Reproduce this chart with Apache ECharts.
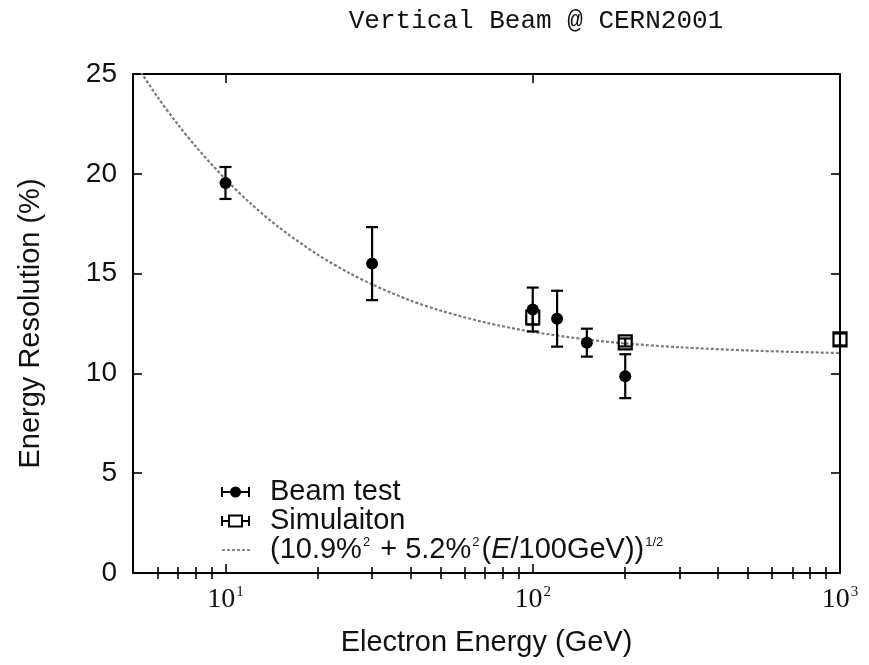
<!DOCTYPE html>
<html>
<head>
<meta charset="utf-8">
<script src="https://cdn.jsdelivr.net/npm/echarts@6/dist/echarts.min.js"></script>
<style>
  html, body { margin: 0; padding: 0; background: #ffffff; }
  #chart { width: 869px; height: 665px; }
</style>
</head>
<body>
<div id="chart"></div>
<script>
// Beam test measurements: energy (GeV), resolution (%), error (%)
const beamEnergy = [10, 30, 100, 120, 150, 200];
const beamResolution = [19.54, 15.5, 13.2, 12.74, 11.54, 9.86];
const beamError = [0.8, 1.83, 1.1, 1.4, 0.7, 1.1];

// Simulation results
const simEnergy = [100, 200, 1000];
const simResolution = [12.8, 11.55, 11.7];
const simError = [0.35, 0.2, 0.3];

// Fitted resolution curve
const fitEnergy = [5.2, 6, 7, 8, 10, 12, 15, 20, 25, 30, 40, 50, 70, 100, 150, 200, 300, 500, 700, 1000];
const fitResolution = [25.3, 23.86, 22.47, 21.37, 19.73, 18.55, 17.29, 15.94, 15.07, 14.46, 13.65, 13.15, 12.55, 12.08, 11.7, 11.5, 11.31, 11.15, 11.08, 11.02];

// Axis ticks
const majorTicks = [10, 100, 1000];
const minorTicks = [6, 7, 8, 9, 20, 30, 40, 50, 60, 70, 80, 90, 200, 300, 400, 500, 600, 700, 800, 900];

const INK = '#111';
const SANS = '"Liberation Sans", Arial, sans-serif';
const SERIF = '"Liberation Serif", "Times New Roman", serif';

function errorBars(kind) {
  return function (params, api) {
    const x = api.value(0), y = api.value(1), e = api.value(2);
    const c = api.coord([x, y]);
    const hi = api.coord([x, y + e]);
    const lo = api.coord([x, y - e]);
    const cap = 6;
    const st = { stroke: '#000', lineWidth: 2.2 };
    const children = [
      { type: 'line', shape: { x1: c[0], y1: hi[1], x2: c[0], y2: lo[1] }, style: st },
      { type: 'line', shape: { x1: c[0] - cap, y1: hi[1], x2: c[0] + cap, y2: hi[1] }, style: st },
      { type: 'line', shape: { x1: c[0] - cap, y1: lo[1], x2: c[0] + cap, y2: lo[1] }, style: st }
    ];
    if (kind === 'circle') {
      children.push({ type: 'circle', shape: { cx: c[0], cy: c[1], r: 6 }, style: { fill: '#000' } });
    } else {
      children.push({ type: 'rect', shape: { x: c[0] - 6.5, y: c[1] - 7, width: 13, height: 14 },
        style: { fill: 'none', stroke: '#000', lineWidth: 2.2 } });
    }
    return { type: 'group', children: children };
  };
}

function logAxis(opts) {
  return Object.assign({
    type: 'log', logBase: 10, min: 5, max: 1000,
    gridIndex: 0,
    splitLine: { show: false },
    axisLine: { show: false },
    axisTick: { show: false },
    axisLabel: { show: false }
  }, opts);
}

function linAxis(opts) {
  return Object.assign({
    type: 'value', min: 0, max: 25, interval: 5,
    splitLine: { show: false },
    axisLine: { show: true, lineStyle: { color: '#000', width: 2 } },
    axisTick: { show: true, inside: true, length: 9, lineStyle: { color: '#000', width: 1.6 } },
    axisLabel: { show: false }
  }, opts);
}

const chart = echarts.init(document.getElementById('chart'), null, { renderer: 'canvas' });

chart.setOption({
  animation: false,
  backgroundColor: '#ffffff',
  grid: { left: 133, right: 29, top: 74, bottom: 92, containLabel: false, outerBoundsMode: 'none' },
  xAxis: [
    logAxis({
      position: 'bottom',
      axisLine: { show: true, onZero: false, lineStyle: { color: '#000', width: 2 } },
      axisTick: { show: true, inside: true, length: 9, customValues: majorTicks, lineStyle: { color: '#000', width: 1.6 } },
      axisLabel: {
        show: true, margin: 12, customValues: majorTicks,
        formatter: function (v) { return '{b|10}{s|' + Math.round(Math.log10(v)) + '}'; },
        rich: {
          b: { fontFamily: SERIF, fontSize: 28, color: INK, lineHeight: 30 },
          s: { fontFamily: SERIF, fontSize: 15, color: INK, verticalAlign: 'top', lineHeight: 15, padding: [0, 0, 0, 1] }
        }
      },
      name: 'Electron Energy (GeV)', nameLocation: 'middle', nameGap: 55,
      nameTextStyle: { fontFamily: SANS, fontSize: 29, color: INK }
    }),
    logAxis({
      position: 'bottom',
      axisTick: { show: true, inside: true, length: 6, customValues: minorTicks, lineStyle: { color: '#000', width: 1.6 } }
    }),
    logAxis({
      position: 'top',
      axisLine: { show: true, onZero: false, lineStyle: { color: '#000', width: 2 } },
      axisTick: { show: true, inside: true, length: 9, customValues: majorTicks, lineStyle: { color: '#000', width: 1.6 } }
    }),
    logAxis({
      position: 'top',
      axisTick: { show: true, inside: true, length: 6, customValues: minorTicks, lineStyle: { color: '#000', width: 1.6 } }
    })
  ],
  yAxis: [
    linAxis({
      position: 'left',
      axisLabel: { show: true, margin: 16, fontFamily: SANS, fontSize: 28, color: INK },
      name: 'Energy Resolution (%)', nameLocation: 'middle', nameGap: 88, nameRotate: 90,
      nameTextStyle: { fontFamily: SANS, fontSize: 29, color: INK }
    }),
    linAxis({ position: 'right' })
  ],
  graphic: [
    { type: 'text', x: 536, y: 21, style: { text: 'Vertical Beam @ CERN2001', font: '26px "Liberation Mono", monospace',
        fill: INK, textAlign: 'center', textVerticalAlign: 'middle' } },
    // legend: beam test
    { type: 'group', children: [
      { type: 'line', shape: { x1: 222, y1: 492, x2: 249, y2: 492 }, style: { stroke: '#000', lineWidth: 2 } },
      { type: 'line', shape: { x1: 222, y1: 487, x2: 222, y2: 497 }, style: { stroke: '#000', lineWidth: 2 } },
      { type: 'line', shape: { x1: 249, y1: 487, x2: 249, y2: 497 }, style: { stroke: '#000', lineWidth: 2 } },
      { type: 'circle', shape: { cx: 235.5, cy: 492, r: 5.5 }, style: { fill: '#000' } },
      { type: 'text', x: 270, y: 492, style: { text: 'Beam test', font: '29px ' + SANS, fill: INK, textVerticalAlign: 'middle' } }
    ] },
    // legend: simulation
    { type: 'group', children: [
      { type: 'line', shape: { x1: 222, y1: 521, x2: 249, y2: 521 }, style: { stroke: '#000', lineWidth: 2 } },
      { type: 'line', shape: { x1: 222, y1: 516, x2: 222, y2: 526 }, style: { stroke: '#000', lineWidth: 2 } },
      { type: 'line', shape: { x1: 249, y1: 516, x2: 249, y2: 526 }, style: { stroke: '#000', lineWidth: 2 } },
      { type: 'rect', shape: { x: 229, y: 515.5, width: 13, height: 11 }, style: { fill: '#fff', stroke: '#000', lineWidth: 2 } },
      { type: 'text', x: 270, y: 521, style: { text: 'Simulaiton', font: '29px ' + SANS, fill: INK, textVerticalAlign: 'middle' } }
    ] },
    // legend: fit
    { type: 'group', children: [
      { type: 'line', shape: { x1: 222, y1: 550, x2: 250, y2: 550 }, style: { stroke: '#888', lineWidth: 2, lineDash: [3, 2] } },
      { type: 'text', x: 270, y: 550, style: {
          text: '(10.9%{s|2} + 5.2%{s|2}({i|E}/100GeV)){s|1/2}',
          font: '29px ' + SANS, fill: INK, textVerticalAlign: 'middle',
          rich: {
            s: { fontFamily: SANS, fontSize: 13, fill: INK, verticalAlign: 'top', lineHeight: 13, padding: [0, 2, 0, 1] },
            i: { fontFamily: SANS, fontSize: 29, fontStyle: 'italic', fill: INK }
          } } }
    ] }
  ],
  series: [
    {
      name: 'Fit', type: 'line', xAxisIndex: 0, yAxisIndex: 0,
      data: fitEnergy.map((e, i) => [e, fitResolution[i]]),
      showSymbol: false, smooth: 0.3, clip: true,
      lineStyle: { color: '#7a7a7a', width: 2.2, type: [3, 2] },
      z: 2
    },
    {
      name: 'Beam test', type: 'custom', xAxisIndex: 0, yAxisIndex: 0,
      data: beamEnergy.map((e, i) => [e, beamResolution[i], beamError[i]]),
      encode: { x: 0, y: 1 },
      renderItem: errorBars('circle'),
      clip: false, z: 3
    },
    {
      name: 'Simulaiton', type: 'custom', xAxisIndex: 0, yAxisIndex: 0,
      data: simEnergy.map((e, i) => [e, simResolution[i], simError[i]]),
      encode: { x: 0, y: 1 },
      renderItem: errorBars('square'),
      clip: false, z: 4
    }
  ]
});
</script>
</body>
</html>
